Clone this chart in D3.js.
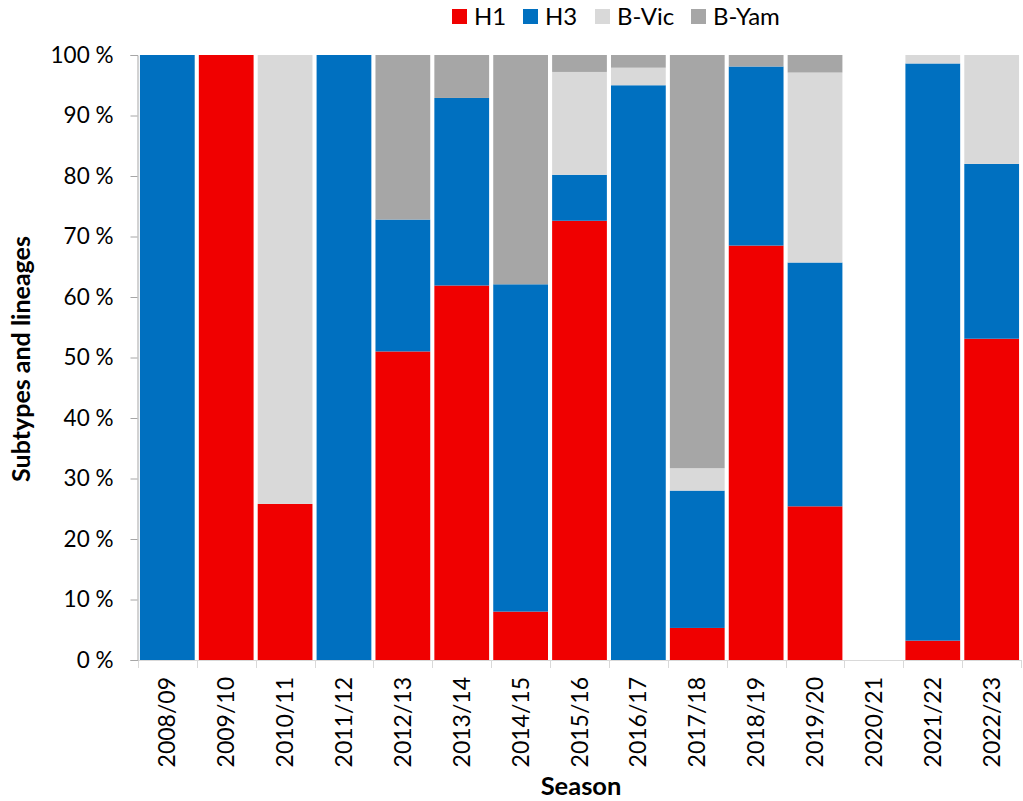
<!DOCTYPE html>
<html><head><meta charset="utf-8">
<script src="https://cdn.jsdelivr.net/npm/d3@7"></script>
<style>body{margin:0;background:#fff}svg{display:block}text{font-family:Lato,"Open Sans",sans-serif}</style>
</head><body>
<script>
const seasons = ["2008/09","2009/10","2010/11","2011/12","2012/13","2013/14","2014/15","2015/16","2016/17","2017/18","2018/19","2019/20","2020/21","2021/22","2022/23"];
const H1   = [0,100,25.8,0,51.0,61.9,8.0,72.6,0,5.3,68.5,25.4,0,3.2,53.1];
const H3   = [100,0,0,100,21.8,31.0,54.1,7.6,95.0,22.7,29.6,40.3,0,95.4,28.9];
const BVic = [0,0,74.2,0,0,0,0,17.0,2.9,3.7,0,31.4,0,1.4,18.0];
const BYam = [0,0,0,0,27.2,7.1,37.9,2.8,2.1,68.3,1.9,2.9,0,0,0];
const seriesNames = ["H1","H3","B-Vic","B-Yam"];
const colors = ["#f00000","#0070c0","#d9d9d9","#a6a6a6"];
const yTicks = [0,10,20,30,40,50,60,70,80,90,100];

const W=1023,H=801;
const svg=d3.select("body").append("svg").attr("width",W).attr("height",H);
const x=d3.scaleBand().domain(seasons).range([137,1022]).paddingInner(0.07).paddingOuter(0.05);
const y=d3.scaleLinear().domain([0,100]).range([660,55]);

const rows=seasons.map((s,i)=>({season:s,"H1":H1[i],"H3":H3[i],"B-Vic":BVic[i],"B-Yam":BYam[i]}));
const stacked=d3.stack().keys(seriesNames)(rows);

svg.append("g").selectAll("g").data(stacked).join("g").attr("fill",(d,i)=>colors[i])
 .selectAll("rect").data(d=>d.filter(v=>v[1]-v[0]>0)).join("rect")
 .attr("x",d=>x(d.data.season)).attr("width",x.bandwidth())
 .attr("y",d=>y(d[1])).attr("height",d=>y(d[0])-y(d[1]));

// x axis
const step=x.step();
const gx=svg.append("g");
gx.append("line").attr("x1",137).attr("x2",1022).attr("y1",660.5).attr("y2",660.5).attr("stroke","#d9d9d9");
seasons.forEach((s,i)=>{
  const bx = x(s)-(step-x.bandwidth())/2;
  gx.append("line").attr("x1",Math.round(bx)+0.5).attr("x2",Math.round(bx)+0.5).attr("y1",660).attr("y2",668).attr("stroke","#d9d9d9");
});
gx.append("line").attr("x1",1021.5).attr("x2",1021.5).attr("y1",660).attr("y2",668).attr("stroke","#d9d9d9");
gx.selectAll("text.xl").data(seasons).join("text").attr("class","xl")
 .attr("transform",d=>`translate(${x(d)+x.bandwidth()/2+8},677) rotate(-90)`)
 .attr("text-anchor","end").attr("font-size",23).attr("fill","#000").text(d=>d);

// y axis
const gy=svg.append("g").attr("transform","translate(137.5,0)")
 .call(d3.axisLeft(y).tickValues(yTicks).tickSize(7).tickPadding(17).tickFormat(d=>d+" %"));
gy.select(".domain").attr("stroke","#a6a6a6");
gy.selectAll(".tick line").attr("stroke","#a6a6a6");
gy.selectAll(".tick text").attr("font-size",22.5).attr("fill","#000").attr("font-family","Lato");

// titles
svg.append("text").attr("transform","translate(30,359) rotate(-90)").attr("text-anchor","middle")
 .attr("font-size",25).attr("font-weight","bold").text("Subtypes and lineages");
svg.append("text").attr("x",581).attr("y",795).attr("text-anchor","middle")
 .attr("font-size",25.5).attr("font-weight","bold").text("Season");

// legend
const legX=[452,523,595,691];
const lg=svg.append("g");
seriesNames.forEach((n,i)=>{
  lg.append("rect").attr("x",legX[i]).attr("y",9).attr("width",15).attr("height",15).attr("fill",colors[i]);
  lg.append("text").attr("x",legX[i]+22).attr("y",24.5).attr("font-size",24).text(n);
});
</script>
</body></html>
